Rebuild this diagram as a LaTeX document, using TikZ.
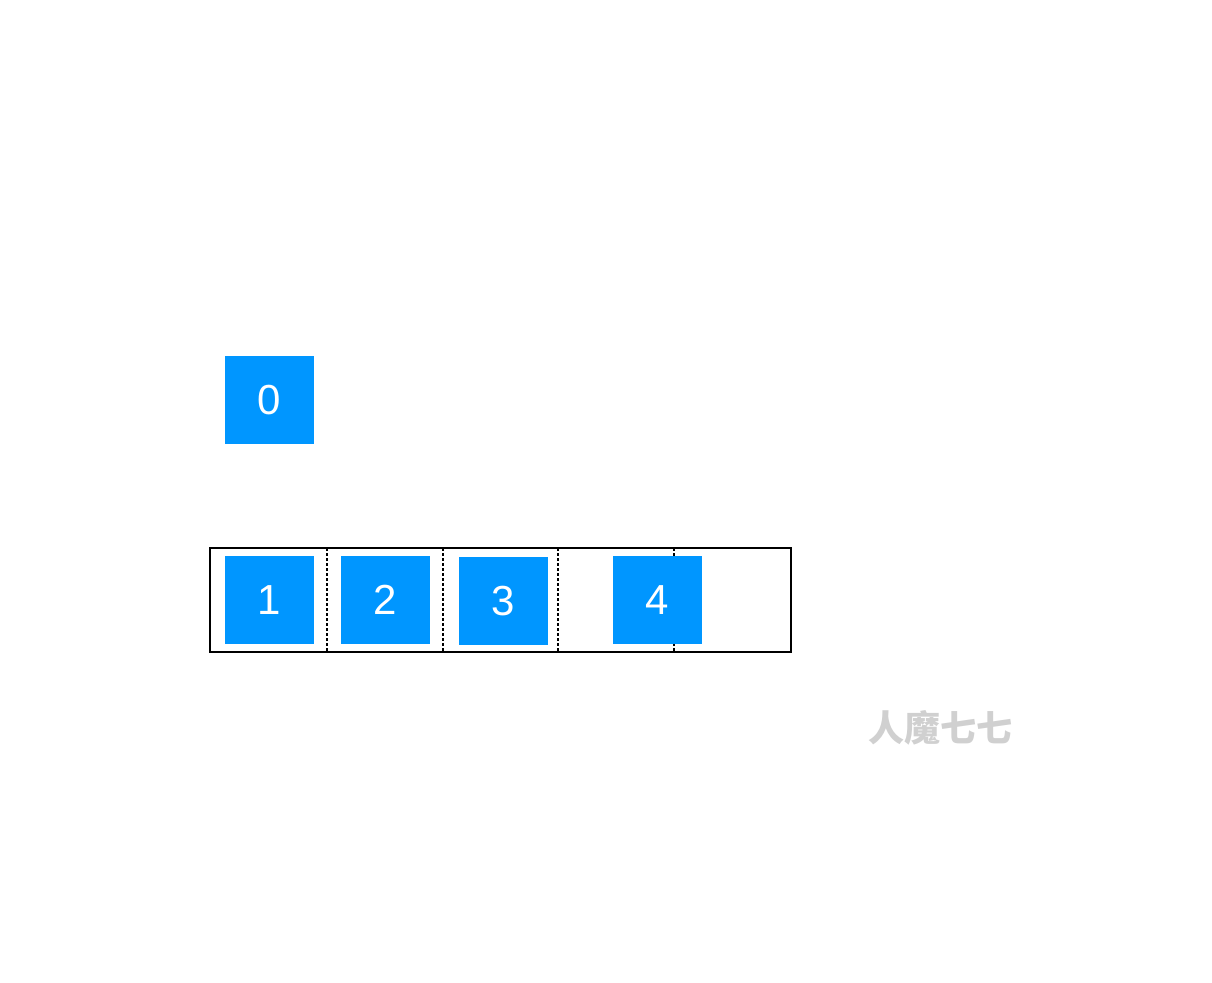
\documentclass[tikz,border=0pt]{standalone}
\usepackage{fontspec}
\setmainfont{Liberation Sans}
\newfontfamily\cjk{Noto Sans CJK SC}
\usetikzlibrary{positioning}
\definecolor{cellblue}{RGB}{0,150,255}
\definecolor{markgray}{RGB}{208,208,208}
\tikzset{
  cell/.style={rectangle, fill=cellblue, minimum width=89pt, minimum height=88pt,
    inner sep=0pt, text=white, font=\fontsize{42}{42}\selectfont},
  frame/.style={draw=black, line width=1.3pt},
  divider/.style={draw=black, line width=1.2pt, dash pattern=on 2.5pt off 2.5pt},
}
\begin{document}
\begin{tikzpicture}[x=1pt, y=-1pt]
  \useasboundingbox (0,0) rectangle (1212,982);
  \fill[white] (0,0) rectangle (1212,982);
  % queue frame
  \node[frame, minimum width=581pt, minimum height=104pt, inner sep=0pt] (queue) at (500.5,600) {};
  % slot dividers
  \foreach \x/\name in {327/d1, 443/d2, 558/d3, 674/d4} {
    \coordinate (\name top) at (\x,548);
    \coordinate (\name bot) at (\x,652);
    \draw[divider] (\name top) -- (\name bot);
  }
  % cells
  \node[cell] (c0) at (269.5,400) {0};
  \node[cell] (c1) at (269.5,600) {1};
  \node[cell] (c2) at (385.5,600) {2};
  \node[cell] (c3) at (503.5,601) {3};
  \node[cell] (c4) at (657.5,600) {4};
  % watermark
  \node[text=markgray, font=\cjk\bfseries\fontsize{36}{36}\selectfont] (mark) at (940,728) {人魔七七};
\end{tikzpicture}
\end{document}
